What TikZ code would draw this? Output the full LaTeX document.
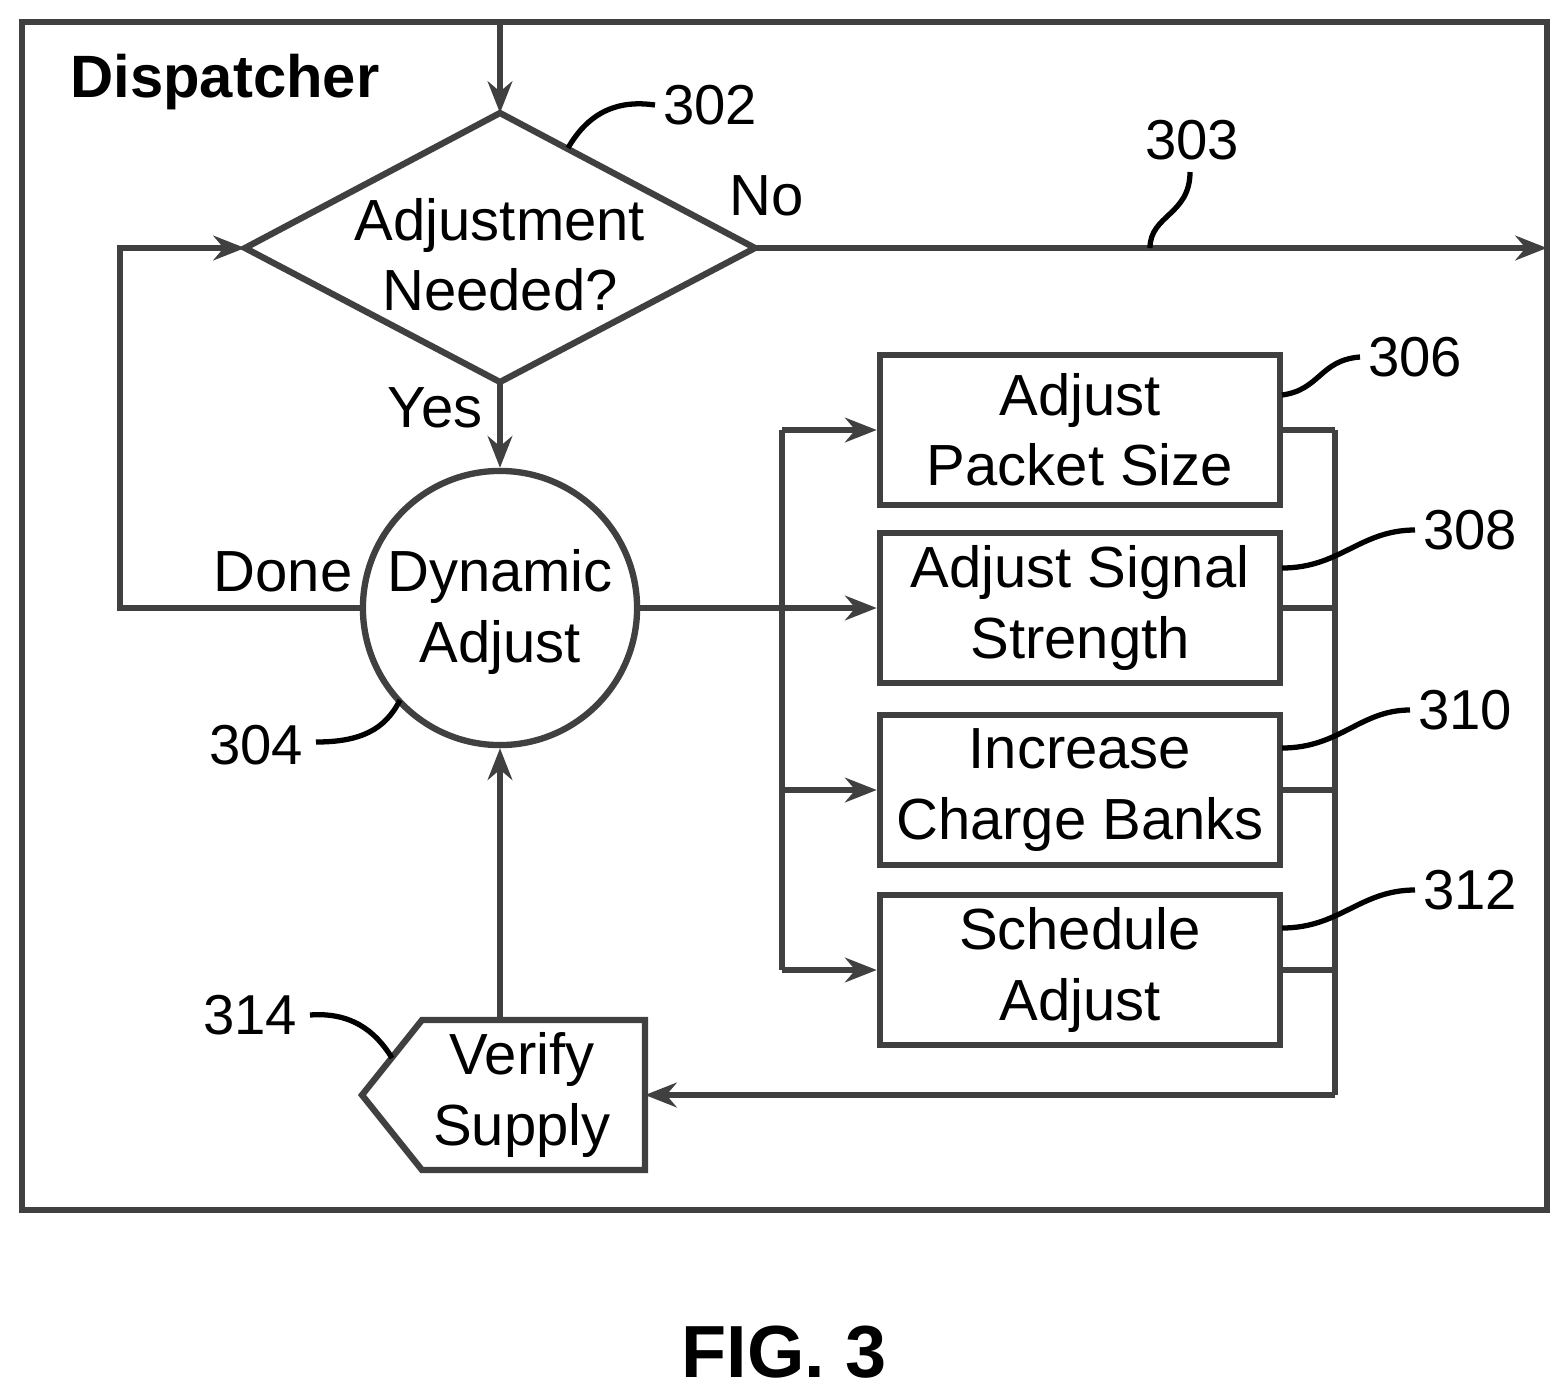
\documentclass[tikz,border=0pt]{standalone}
\usepackage{fontspec}
\setmainfont{Liberation Sans}
\usetikzlibrary{shapes.geometric,arrows.meta}
\begin{document}
\begin{tikzpicture}[x=0.01cm,y=-0.01cm,
 ln/.style={draw=black!75,line width=1.8pt},
 ar/.style={ln,-{Stealth[length=9pt,width=7pt]}},
 txt/.style={font=\fontsize{16.5}{20}\selectfont,align=center},
 num/.style={font=\fontsize{16}{19}\selectfont},
 lead/.style={draw=black,line width=1.5pt}]
\useasboundingbox (0,0) rectangle (1568,1396);
\draw[ln] (22,22) rectangle (1547,1210);
\node[font=\bfseries\fontsize{17}{20}\selectfont,anchor=west] (disp) at (58,82) {Dispatcher};
\coordinate (top) at (500,22);
\coordinate (dtop) at (500,113);
\draw[ln,fill=white] (500,113) -- (755,248) -- (500,382) -- (245,248) -- cycle;
\node[txt] (dia) at (500,255) {Adjustment\\Needed?};
\coordinate (dl) at (245,248); \coordinate (dr) at (755,248); \coordinate (db) at (500,382);
\draw[ar] (top) -- (dtop);
\coordinate (fr) at (1547,248);
\draw[ar] (dr) -- (fr);
\node[txt] (no) at (767,196) {No};
\node[txt] (yes) at (435,408) {Yes};
\node[ln,circle,minimum size=2.74cm,inner sep=0pt] (circ) at (500,608) {};
\node[txt] (dyn) at (500,612) {Dynamic\\Adjust};
\draw[ar] (db) -- (circ.north);
\node[txt] (done) at (283,572) {Done};
\coordinate (c1) at (120,608); \coordinate (c2) at (120,248);
\draw[ar] (circ.west) -- (c1) -- (c2) -- (dl);
\foreach \n/\y/\t in {a/430/{Adjust\\Packet Size},b/608/{Adjust Signal\\Strength},c/790/{Increase\\Charge Banks},d/970/{Schedule\\Adjust}}{
  \node[ln,rectangle,minimum width=4cm,minimum height=1.5cm,inner sep=0pt] (\n) at (1080,\y) {};
  \node[txt] at (1080,\y) {\t};
  \coordinate (l\n) at (782,\y); \coordinate (r\n) at (1335,\y);
  \draw[ar] (l\n) -- (\n.west);
  \draw[ln] (\n.east) -- (r\n);
}
\draw[ln] (circ.east) -- (lb);
\draw[ln] (la) -- (ld);
\coordinate (rv) at (1335,1095);
\draw[ln] (ra) -- (rv);
\draw[ln] (362,1095) -- (422,1020) -- (645,1020) -- (645,1170) -- (422,1170) -- cycle;
\node[txt] (ver) at (522,1095) {Verify\\Supply};
\coordinate (vr) at (645,1095); \coordinate (vt) at (500,1020);
\draw[ar] (rv) -- (vr);
\draw[ar] (vt) -- (circ.south);
\node[num] (n302) at (710,105) {302};
\draw[lead] (568,148) .. controls (590,110) and (620,100) .. (655,105);
\node[num] (n303) at (1192,140) {303};
\draw[lead] (1150,248) .. controls (1150,215) and (1190,215) .. (1190,172);
\node[num] (n304) at (256,745) {304};
\draw[lead] (316,742) .. controls (360,742) and (385,730) .. (400,700);
\node[num] (n306) at (1415,357) {306};
\draw[lead] (1282,395) .. controls (1320,390) and (1320,360) .. (1360,357);
\node[num] (n308) at (1470,530) {308};
\draw[lead] (1282,568) .. controls (1340,568) and (1360,530) .. (1415,530);
\node[num] (n310) at (1465,710) {310};
\draw[lead] (1282,748) .. controls (1340,748) and (1360,710) .. (1410,710);
\node[num] (n312) at (1470,890) {312};
\draw[lead] (1282,928) .. controls (1340,928) and (1360,890) .. (1415,890);
\node[num] (n314) at (250,1015) {314};
\draw[lead] (310,1015) .. controls (350,1012) and (375,1030) .. (392,1058);
\node[font=\bfseries\fontsize{21}{25}\selectfont] (fig) at (784,1352) {FIG. 3};
\end{tikzpicture}
\end{document}
